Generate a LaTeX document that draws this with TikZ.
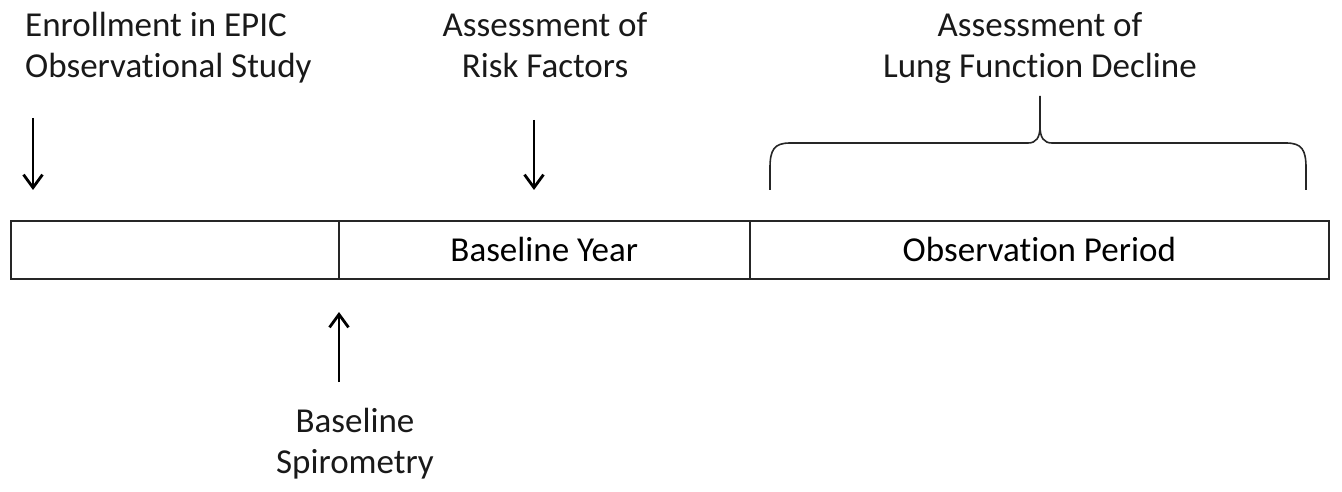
\documentclass[tikz,border=0pt]{standalone}
\usepackage{fontspec}
\setmainfont{Carlito}[RawFeature=-liga]
\usetikzlibrary{arrows.meta}
\begin{document}
\begin{tikzpicture}[x=1pt,y=-1pt,
  lbl/.style={inner sep=0pt,align=center,font=\fontsize{35}{41}\selectfont,text=black!90},
  seg/.style={draw=black!85,line width=1.6pt,minimum height=58pt,inner sep=0pt,anchor=north west,font=\fontsize{35}{41}\selectfont},
  arr/.style={line width=2.6pt,-{Straight Barb[length=13pt,width=19pt,line width=2.8pt]}},
  brc/.style={line width=1.6pt,draw=black!85}]
\useasboundingbox (0,0) rectangle (1342,492);
% timeline segments
\node[seg,minimum width=328pt] (s1) at (10,220) {};
\node[seg,minimum width=411pt] (s2) at (338,220) {Baseline Year};
\node[seg,minimum width=579pt] (s3) at (749,220) {Observation Period};
% labels
\node[lbl,align=left,anchor=base west] (enr) at (25,78) {Enrollment in EPIC\\Observational Study};
\node[lbl,anchor=base] (risk) at (545,78) {Assessment of\\Risk Factors};
\node[lbl,anchor=base] (lung) at (1040,78) {Assessment of\\Lung Function Decline};
\node[lbl,anchor=base] (spiro) at (355,473) {Baseline\\Spirometry};
% arrows
\coordinate (a1s) at (33,118); \coordinate (a1e) at (33,190);
\coordinate (a2s) at (534,120); \coordinate (a2e) at (534,190);
\coordinate (a3s) at (339,382); \coordinate (a3e) at (339,312);
\draw[arr] (a1s) -- (a1e);
\draw[arr] (a2s) -- (a2e);
\draw[arr] (a3s) -- (a3e);
% brace
\coordinate (bl) at (770,190);
\coordinate (br) at (1306,190);
\coordinate (bt) at (1040,96);
\draw[brc] (bl) -- (770,168) .. controls (770,150) and (774,143) .. (790,143)
  -- (1028,143) .. controls (1036,143) and (1040,138) .. (1040,126) -- (bt);
\draw[brc] (br) -- (1306,168) .. controls (1306,150) and (1302,143) .. (1286,143)
  -- (1052,143) .. controls (1044,143) and (1040,138) .. (1040,126);
\end{tikzpicture}
\end{document}
